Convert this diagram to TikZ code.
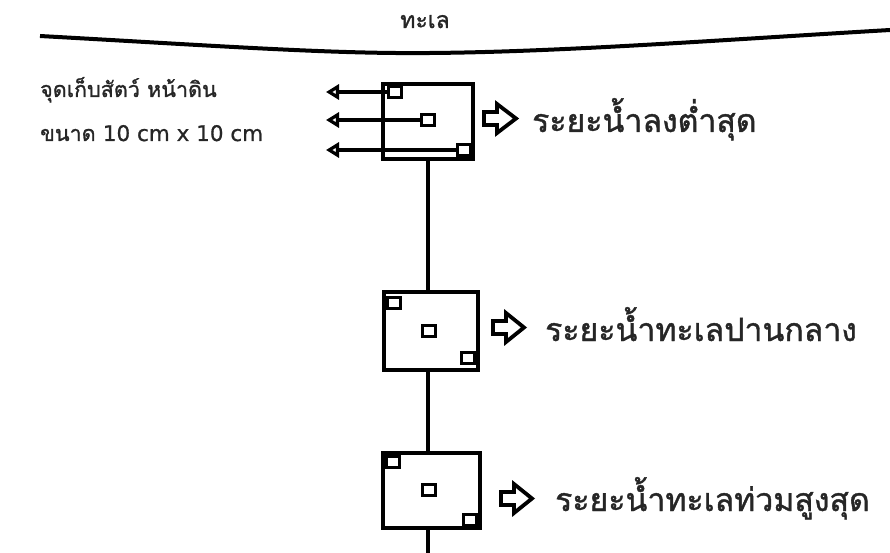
\documentclass[tikz,border=0pt]{standalone}
\usepackage{fontspec}
\newfontfamily\thaifont[Script=Thai,FakeBold=1.2]{Loma}
\newfontfamily\latfont[FakeBold=0.8]{DejaVu Sans}
\usetikzlibrary{arrows.meta}
\begin{document}
\begin{tikzpicture}[x=1pt,y=-1pt,
  plot/.style={draw=black,line width=4.4pt,inner sep=0pt,fill=white},
  sq/.style={draw=black,line width=3.4pt,minimum width=13pt,minimum height=11pt,inner sep=0pt,fill=white},
  lbl/.style={text=black!85,font=\thaifont\fontsize{32}{35}\selectfont,anchor=base west,inner sep=0pt},
  small/.style={text=black!85,font=\thaifont\fontsize{21.5}{24}\selectfont,anchor=base west,inner sep=0pt},
  stemline/.style={line width=3.4pt},
  back/.style={line width=3.4pt,-{Triangle[open,length=13pt,width=15pt,line width=3.4pt]}},
  bigarrow/.style={draw=black,line width=3.8pt,line join=miter}
]
\useasboundingbox (0,0) rectangle (890,553);
% sea surface
\node[small,anchor=base,font=\thaifont\fontsize{23}{26}\selectfont] (sea) at (425,28) {ทะเล};
\draw[line width=4pt] (40,36) .. controls (220,46) and (330,54) .. (430,53) .. controls (560,52) and (720,40) .. (890,30);
\coordinate (stem) at (428,0);
% box 1
\node[plot,minimum width=90pt,minimum height=75pt] (b1) at (428,121.5) {};
\node[sq] (b1a) at (395,92) {};
\node[sq] (b1b) at (428,120) {};
\node[sq] (b1c) at (464,150) {};
\coordinate (t1) at (326,92);
\coordinate (t2) at (326,120);
\coordinate (t3) at (326,150);
\draw[back] (b1a.west) -- (t1);
\draw[back] (b1b.west) -- (t2);
\draw[back] (b1c.west) -- (t3);
% box 2
\node[plot,minimum width=94pt,minimum height=78pt] (b2) at (431,331) {};
\node[sq] (b2a) at (394,303) {};
\node[sq] (b2b) at (429,331) {};
\node[sq] (b2c) at (468,358) {};
% box 3
\node[plot,minimum width=97pt,minimum height=75pt] (b3) at (431.5,490.5) {};
\node[sq] (b3a) at (393,462) {};
\node[sq] (b3b) at (429,490) {};
\node[sq] (b3c) at (470,520) {};
\coordinate (bottom) at (428,553);
% stem
\draw[stemline] (b1.south -| stem) -- (b2.north -| stem);
\draw[stemline] (b2.south -| stem) -- (b3.north -| stem);
\draw[stemline] (b3.south -| stem) -- (bottom);
% right-pointing outline arrows
\draw[bigarrow] (484,112) -- (497,112) -- (497,104) -- (516,118.5) -- (497,133) -- (497,125) -- (484,125) -- cycle;
\draw[bigarrow] (493,321) -- (506,321) -- (506,313) -- (524,327.5) -- (506,342) -- (506,334) -- (493,334) -- cycle;
\draw[bigarrow] (501,492) -- (514,492) -- (514,484) -- (532,498.5) -- (514,513) -- (514,505) -- (501,505) -- cycle;
% labels
\node[lbl] (l1) at (532,132) {ระยะน้ำลงต่ำสุด};
\node[lbl] (l2) at (545,341) {ระยะน้ำทะเลปานกลาง};
\node[lbl] (l3) at (555,511) {ระยะน้ำทะเลท่วมสูงสุด};
\node[small] (n1) at (40,97) {จุดเก็บสัตว์ หน้าดิน};
\node[small] (n2) at (40,141) {ขนาด {\latfont\fontsize{21.5}{24}\selectfont 10 cm x 10 cm}};
\end{tikzpicture}
\end{document}
